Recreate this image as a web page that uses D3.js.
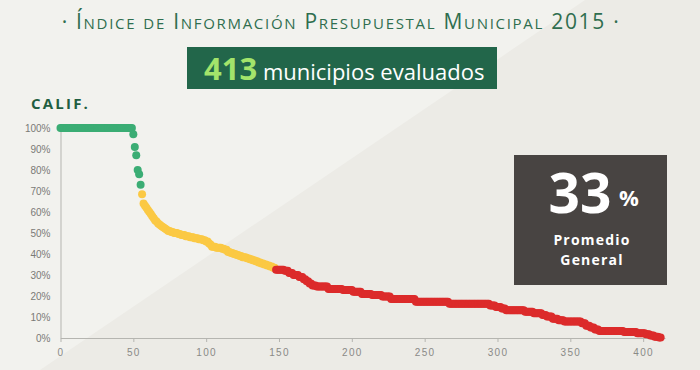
<!DOCTYPE html>
<html>
<head>
<meta charset="utf-8">
<script src="https://cdn.jsdelivr.net/npm/d3@7"></script>
<style>
  body { margin: 0; background: #f2f2ee; }
  svg { display: block; font-family: "Open Sans", sans-serif; }
</style>
</head>
<body>
<div id="chart"></div>
<script>
// scores: [score %, number of municipios]
var scoreRuns = [
  [100, 50], [97, 1], [91, 1], [87, 1], [80, 1], [78, 1], [73, 1],
  [68.5, 1], [64, 1], [63, 1], [62, 1], [61, 1], [60, 1], [59, 1], [58, 1], [57, 1],
  [56, 1], [55.5, 1], [54.5, 1], [54, 1], [53.5, 1], [53, 1], [52.5, 1], [52, 1], [51.5, 1],
  [51, 2], [50.5, 2], [50, 3], [49.5, 2], [49, 3], [48.5, 3], [48, 3], [47.5, 3], [47, 3],
  [46.5, 2], [46, 2], [45, 1], [44.5, 1], [43.5, 3], [43, 4], [42.5, 2], [42, 2], [41, 2],
  [40.5, 2], [40, 2], [39.5, 2], [39, 2], [38.5, 3], [38, 2], [37.5, 2], [37, 2], [36.5, 2],
  [36, 2], [35.5, 2], [35, 2], [34.5, 2], [34, 2], [33.5, 2],
  [32.5, 6], [32, 3], [31, 3], [30, 4], [29, 3], [28, 2], [27, 2], [26, 2], [25, 3],
  [24.5, 8], [23.3, 10], [22.8, 7], [22, 6], [21, 7], [20.5, 7], [19.8, 6], [18.6, 17],
  [17.3, 23], [16.3, 28], [15.5, 4], [14.8, 4], [14, 3], [13.2, 13], [12.5, 6], [11.8, 6],
  [11, 3], [10.2, 4], [9.2, 4], [8.5, 4], [7.8, 12], [7, 3], [5.8, 3], [5, 3], [4, 3],
  [3.3, 17], [2.8, 9], [2.3, 6], [1.8, 3], [1.2, 3], [0.6, 3], [0.2, 2]
];
var yTicks = [0, 10, 20, 30, 40, 50, 60, 70, 80, 90, 100];
var xTicks = [0, 50, 100, 150, 200, 250, 300, 350, 400];
var municipios = 413;
var promedio = 33;
var titulo = "· Índice de Información Presupuestal Municipal 2015 ·";

var scores = [];
scoreRuns.forEach(function(r) {
  for (var i = 0; i < r[1]; i++) scores.push(r[0]);
});
var data = scores.map(function(s, i) { return {i: i, score: s}; });

var W = 700, H = 370;
var svg = d3.select("#chart").append("svg")
    .attr("width", W)
    .attr("height", H);

// background with the soft diagonal
svg.append("rect").attr("width", W).attr("height", H).attr("fill", "#f2f2ee");
svg.append("path")
    .attr("d", "M40,370 L585,0 L700,0 L700,370 Z")
    .attr("fill", "#ecebe6");

// title
svg.append("text")
    .attr("x", 341).attr("y", 29)
    .attr("text-anchor", "middle")
    .style("font-variant", "small-caps")
    .style("font-size", "21px")
    .style("letter-spacing", "1.7px")
    .attr("fill", "#2f6e4f")
    .text(titulo);

// municipios box
svg.append("rect")
    .attr("x", 187).attr("y", 47).attr("width", 310).attr("height", 42)
    .attr("fill", "#22664a");
var t = svg.append("text").attr("x", 204).attr("y", 80);
t.append("tspan").text(municipios)
    .attr("fill", "#a3e46b").style("font-weight", "bold").style("font-size", "31px");
t.append("tspan").text(" municipios evaluados")
    .attr("fill", "#ffffff").style("font-size", "22px");

svg.append("text")
    .attr("x", 31).attr("y", 109)
    .style("font-weight", "bold").style("font-size", "15px").style("letter-spacing", "2.2px")
    .attr("fill", "#1f5e41")
    .text("CALIF.");

var x = d3.scaleLinear().domain([0, 415]).range([60.5, 665]);
var y = d3.scaleLinear().domain([0, 100]).range([338, 128]);

var xAxis = svg.append("g")
    .attr("transform", "translate(0,338)")
    .call(d3.axisBottom(x).tickValues(xTicks).tickSize(4).tickSizeOuter(0));
xAxis.select(".domain").attr("stroke", "#b5b5b0");
xAxis.selectAll(".tick line").attr("stroke", "#b5b5b0");
xAxis.selectAll("text").attr("fill", "#8a8a86").style("font-size", "10px")
    .style("letter-spacing", "1.3px").attr("dy", "1.1em");

var yAxis = svg.append("g")
    .attr("transform", "translate(60.5,0)")
    .call(d3.axisLeft(y).tickValues(yTicks).tickSize(0).tickSizeOuter(0)
      .tickFormat(function(d) { return d + "%"; }));
yAxis.select(".domain").attr("stroke", "#b5b5b0");
yAxis.selectAll("text").attr("fill", "#7a7a76").style("font-size", "10px").attr("x", -10);

function color(s) {
  if (s >= 70) return "#3bad74";
  if (s >= 33) return "#fbc944";
  return "#dc2b2b";
}

svg.append("g").selectAll("circle")
  .data(data)
  .enter().append("circle")
    .attr("cx", function(d) { return x(d.i); })
    .attr("cy", function(d) { return y(d.score); })
    .attr("r", 4)
    .attr("fill", function(d) { return color(d.score); });

// promedio box
svg.append("rect")
    .attr("x", 514).attr("y", 155).attr("width", 153).attr("height", 130)
    .attr("fill", "#484442");
svg.append("text")
    .attr("x", 580).attr("y", 213).attr("text-anchor", "middle")
    .style("font-weight", "bold").style("font-size", "55px").attr("fill", "#ffffff")
    .text(promedio);
svg.append("text")
    .attr("x", 619).attr("y", 206)
    .style("font-weight", "bold").style("font-size", "22px").attr("fill", "#ffffff")
    .text("%");
svg.append("text")
    .attr("x", 592).attr("y", 245).attr("text-anchor", "middle")
    .style("font-weight", "bold").style("font-size", "14px").style("letter-spacing", "1.2px")
    .attr("fill", "#ffffff").text("Promedio");
svg.append("text")
    .attr("x", 592).attr("y", 264.5).attr("text-anchor", "middle")
    .style("font-weight", "bold").style("font-size", "14px").style("letter-spacing", "1.2px")
    .attr("fill", "#ffffff").text("General");
</script>
</body>
</html>
